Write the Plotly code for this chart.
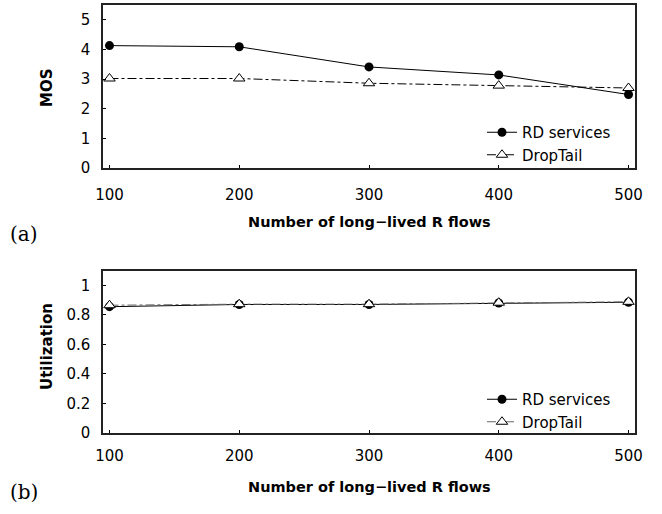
import plotly.graph_objects as go

flows = [100, 200, 300, 400, 500]
mos_rd = [4.13, 4.09, 3.41, 3.14, 2.48]
mos_dt = [3.02, 3.02, 2.86, 2.78, 2.70]
util_rd = [0.855, 0.870, 0.870, 0.880, 0.885]
util_dt = [0.865, 0.872, 0.872, 0.882, 0.888]
mos_ticks = [0, 1, 2, 3, 4, 5]
util_ticks = [0, 0.2, 0.4, 0.6, 0.8, 1]
util_ticktext = ["0", "0.2", "0.4", "0.6", "0.8", "1"]

W, H = 662, 514
ml, mr, mt, mb = 103, 27, 5, 81
ph = H - mt - mb
pw = W - ml - mr

def py(pix):
    return (H - mb - pix) / ph

def px(pix):
    return (pix - ml) / pw

SANS = "DejaVu Sans, Liberation Sans, Arial"
tick_font = dict(family=SANS, size=15, color="black")

fig = go.Figure()
fig.add_trace(go.Scatter(x=flows, y=mos_rd, name="RD services", mode="lines+markers",
                         line=dict(color="black", width=1),
                         marker=dict(symbol="circle", size=9, color="black"),
                         xaxis="x", yaxis="y", legend="legend"))
fig.add_trace(go.Scatter(x=flows, y=mos_dt, name="DropTail", mode="lines+markers",
                         line=dict(color="black", width=1, dash="dashdot"),
                         marker=dict(symbol="triangle-up", size=10, color="white",
                                     line=dict(width=1, color="black")),
                         xaxis="x", yaxis="y", legend="legend"))
fig.add_trace(go.Scatter(x=flows, y=util_rd, name="RD services", mode="lines+markers",
                         line=dict(color="black", width=1),
                         marker=dict(symbol="circle", size=9, color="black"),
                         xaxis="x2", yaxis="y2", legend="legend2"))
fig.add_trace(go.Scatter(x=flows, y=util_dt, name="DropTail", mode="lines+markers",
                         line=dict(color="#666666", width=1, dash="dashdot"),
                         marker=dict(symbol="triangle-up", size=10, color="white",
                                     line=dict(width=1, color="black")),
                         xaxis="x2", yaxis="y2", legend="legend2"))

axis_common = dict(showline=True, linecolor="#222222", linewidth=1.5, mirror=True,
                   ticks="inside", ticklen=3, tickcolor="black", showgrid=False,
                   zeroline=False, tickfont=tick_font)

top_dom = [py(168), 1]
bot_dom = [0, py(270.5)]
leg_font = dict(family=SANS, size=15, color="black")

fig.update_layout(
    width=W, height=H,
    margin=dict(l=ml, r=mr, t=mt, b=mb, autoexpand=False),
    paper_bgcolor="white", plot_bgcolor="white",
    xaxis=dict(domain=[0, 1], range=[95, 505], tickvals=flows, anchor="y",
               ticklabelstandoff=12, **axis_common),
    yaxis=dict(domain=top_dom, range=[0, 5.5], tickvals=mos_ticks, anchor="x",
               ticklabelstandoff=8, **axis_common),
    xaxis2=dict(domain=[0, 1], range=[95, 505], tickvals=flows, anchor="y2",
                ticklabelstandoff=8, **axis_common),
    yaxis2=dict(domain=bot_dom, range=[0, 1.1], tickvals=util_ticks, ticktext=util_ticktext,
                anchor="x2", ticklabelstandoff=8, **axis_common),
    legend=dict(x=px(482), y=py(116), xanchor="left", yanchor="top", font=leg_font,
                bgcolor="rgba(0,0,0,0)", tracegroupgap=0, itemwidth=30),
    legend2=dict(x=px(482), y=py(383), xanchor="left", yanchor="top", font=leg_font,
                 bgcolor="rgba(0,0,0,0)", tracegroupgap=0, itemwidth=30),
    showlegend=True,
)

title_font = dict(family=SANS, size=14.5, color="black")
ytitle_font = dict(family=SANS, size=15, color="black")

def ann(text, x, y, **kw):
    fig.add_annotation(text=text, x=x, y=y, xref="paper", yref="paper",
                       showarrow=False, xanchor="center", yanchor="middle", **kw)

ann("<b>Number of long\u2212lived R flows</b>", px(369), py(222), font=title_font)
ann("<b>Number of long\u2212lived R flows</b>", px(369), py(487), font=title_font)
ann("<b>MOS</b>", px(47), py(88), font=ytitle_font, textangle=-90)
ann("<b>Utilization</b>", px(47), py(347), font=ytitle_font, textangle=-90)
lab_font = dict(family="DejaVu Serif, Liberation Serif", size=20, color="black")
ann("(a)", px(24), py(234), font=lab_font)
ann("(b)", px(24), py(492), font=lab_font)

fig.write_html("out.html", config={"displayModeBar": False},
               post_script="document.body.style.margin='0';")
